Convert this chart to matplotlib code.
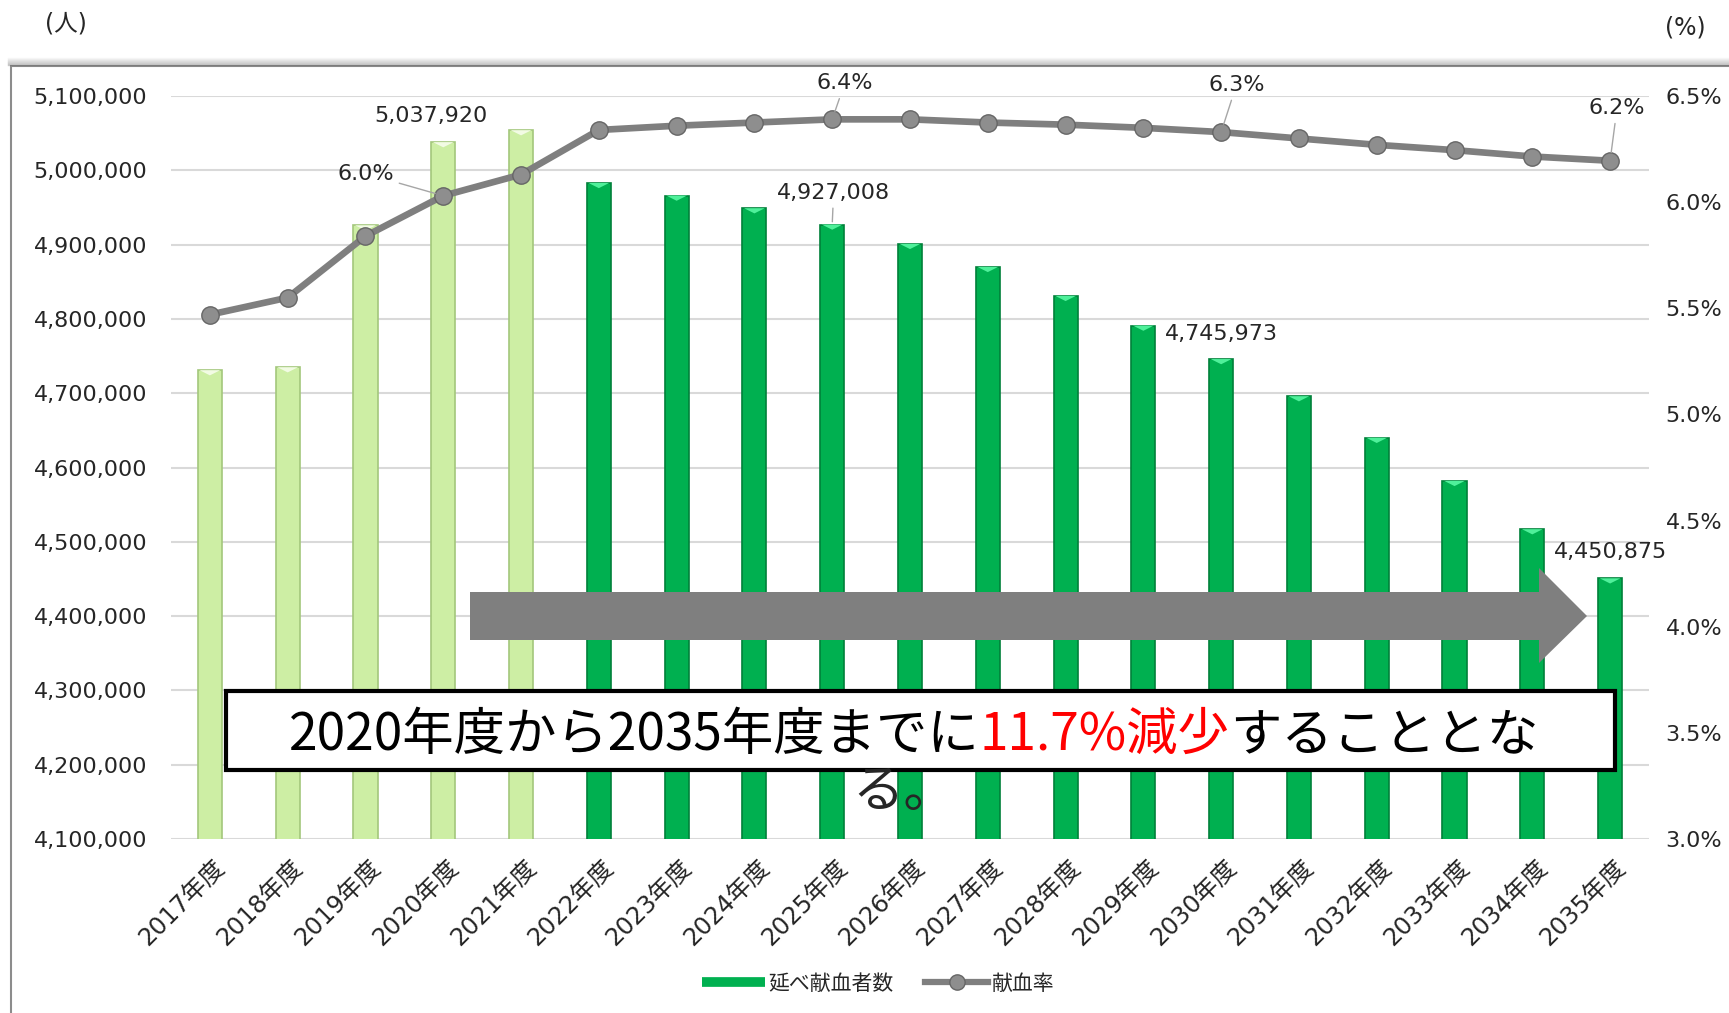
import numpy as np
import matplotlib
matplotlib.use("Agg")
import matplotlib.pyplot as plt
from matplotlib.patches import Rectangle, Polygon
from matplotlib.lines import Line2D
from matplotlib.text import Annotation
from matplotlib.ticker import FuncFormatter, MultipleLocator
from matplotlib.transforms import ScaledTranslation

# data
years = [f"{y}年度" for y in range(2017, 2036)]
donors = [4731000, 4735000, 4926000, 5037920, 5054000, 4983000, 4966000,
          4949000, 4927008, 4901000, 4870000, 4831000, 4791000, 4745973,
          4696000, 4640000, 4582000, 4517000, 4450875]
rate = [5.47, 5.55, 5.84, 6.03, 6.13, 6.34, 6.36, 6.375, 6.39, 6.39,
        6.375, 6.365, 6.35, 6.33, 6.30, 6.27, 6.245, 6.215, 6.195]
n_actual = 5  # 2017-2021 actual values (light bars)
labelled = [3, 8, 13, 18]

LIGHT, LIGHT_EDGE = "#cdeea4", "#a3c77c"
GREEN, GREEN_EDGE = "#00b050", "#00803a"
GREY = "#7f7f7f"

plt.rcParams['font.family'] = ['DejaVu Sans', 'Noto Sans CJK JP']
plt.rcParams['text.color'] = '#262626'

W, H = 1729, 1013
fig = plt.figure(figsize=(W / 100, H / 100), dpi=100)

# outer frame with a bit of shadow on top
fig.add_artist(Rectangle((11 / W, -0.02), 1.02, (H - 66) / H + 0.02,
                         transform=fig.transFigure, fill=False,
                         edgecolor="#8c8c8c", lw=1.5, zorder=0))
for k in range(1, 9):
    fig.add_artist(Line2D([8 / W, 1], [(H - 66 + k) / H] * 2,
                          transform=fig.transFigure, color="#606060",
                          lw=1, alpha=0.35 * (1 - k / 9), zorder=0))

ax = fig.add_axes([171 / W, 1 - 839 / H, (1649 - 171) / W, (839 - 96) / H])
ax.patch.set_alpha(0)
x = np.arange(len(years))
face = [LIGHT if i < n_actual else GREEN for i in x]
edge = [LIGHT_EDGE if i < n_actual else GREEN_EDGE for i in x]
ax.bar(x, donors, width=0.31, color=face, edgecolor=edge, lw=1.2, zorder=2)
# bevel highlight at bar tops
tri = [(-1, 0), (1, 0), (0, -0.5)]
hi = ["#f2fbe4" if i < n_actual else "#4ff09a" for i in x]
ax.scatter(x, donors, marker=tri, s=15 ** 2, c=hi, lw=0, zorder=3)

ax.set_xlim(-0.5, len(years) - 0.5)
ax.set_ylim(4100000, 5100000)
ax.yaxis.set_major_locator(MultipleLocator(100000))
ax.yaxis.set_major_formatter(FuncFormatter(lambda v, p: f"{v:,.0f}"))
ax.grid(axis='y', color='#d9d9d9', lw=1.5, zorder=0)
ax.set_axisbelow(True)
for s in ax.spines.values():
    s.set_visible(False)
ax.tick_params(length=0, labelsize=16, labelcolor='#262626')
ax.tick_params(axis='y', pad=17)
ax.tick_params(axis='x', pad=12, labelsize=17.5)
ax.set_xticks(x, years, rotation=45, ha='right', va='top', rotation_mode='anchor')
for lab in ax.get_xticklabels():
    lab.set_transform(lab.get_transform() + ScaledTranslation(2 / 72, 0, fig.dpi_scale_trans))

ax2 = ax.twinx()
ax2.plot(x, rate, color=GREY, lw=4.8, marker='o', ms=12.5, mfc='#8e8e8e',
         mec='#666666', mew=1, zorder=3)
ax2.set_ylim(3.0, 6.5)
ax2.yaxis.set_major_locator(MultipleLocator(0.5))
ax2.yaxis.set_major_formatter(FuncFormatter(lambda v, p: f"{v:.1f}%"))
for s in ax2.spines.values():
    s.set_visible(False)
ax2.tick_params(length=0, labelsize=16, pad=12, labelcolor='#262626')

# data labels
bar_off = {3: (-9, 19), 8: (1, 23), 13: (0, 18), 18: (0, 19)}
for i in labelled:
    ap = dict(arrowstyle='-', color='#a6a6a6', lw=1) if i == 8 else None
    ax.annotate(f"{donors[i]:,}", xy=(i, donors[i]), xytext=bar_off[i],
                textcoords='offset points', ha='center', va='center',
                fontsize=16, arrowprops=ap, zorder=4)
rate_off = {3: (-56, 16), 8: (9, 26), 13: (11, 34), 18: (5, 38)}
for i in labelled:
    ax2.annotate(f"{rate[i]:.1f}%", xy=(x[i], rate[i]), xytext=rate_off[i],
                 textcoords='offset points', ha='center', va='center',
                 fontsize=16, zorder=4,
                 arrowprops=dict(arrowstyle='-', color='#a6a6a6', lw=1,
                                 shrinkA=2, shrinkB=6))

fig.text(66 / W, 1 - 24 / H, "(人)", ha='center', va='center', fontsize=17)
fig.text(1685 / W, 1 - 28 / H, "(%)", ha='center', va='center', fontsize=17)

# big arrow and message box
inch = fig.dpi_scale_trans
pts = [(470, 592), (1539, 592), (1539, 568), (1587, 616), (1539, 663), (1539, 640), (470, 640)]
fig.add_artist(Polygon([(px / 100, (H - py) / 100) for px, py in pts], closed=True,
                       transform=inch, facecolor=GREY, edgecolor='none', zorder=5))
fig.add_artist(Rectangle((226 / 100, (H - 770) / 100), (1615 - 226) / 100, (770 - 691) / 100,
                         transform=inch, facecolor='white', edgecolor='black', lw=3, zorder=6))
msg = [("2020年度から2035年度までに", 'black'), ("11.7%減少", '#ff0000'), ("することとな", 'black')]
big = dict(fontsize=37, family=['Noto Sans CJK JP'], zorder=7)
prev = fig.text(289 / 100, (H - 762) / 100, msg[0][0], color=msg[0][1], transform=inch,
                ha='left', va='bottom', **big)
for s, c in msg[1:]:
    prev = fig.add_artist(Annotation(s, xy=(1, 0), xycoords=prev, color=c,
                                     ha='left', va='bottom', **big))
fig.text(904 / 100, (H - 792) / 100, "る。", transform=inch, ha='center', va='center', **big)

handles = [Line2D([], [], color=GREEN, lw=7, solid_capstyle='butt'),
           Line2D([], [], color=GREY, lw=4.5, marker='o', ms=11, mfc='#8e8e8e', mec='#666666')]
fig.legend(handles, ["延べ献血者数", "献血率"], loc='center', bbox_to_anchor=(0.508, 0.029),
           ncol=2, frameon=False, handlelength=3, handletextpad=0.2,
           columnspacing=1.5, prop={'family': ['Noto Sans CJK JP'], 'size': 15})

fig.savefig("out.png", dpi=100)
